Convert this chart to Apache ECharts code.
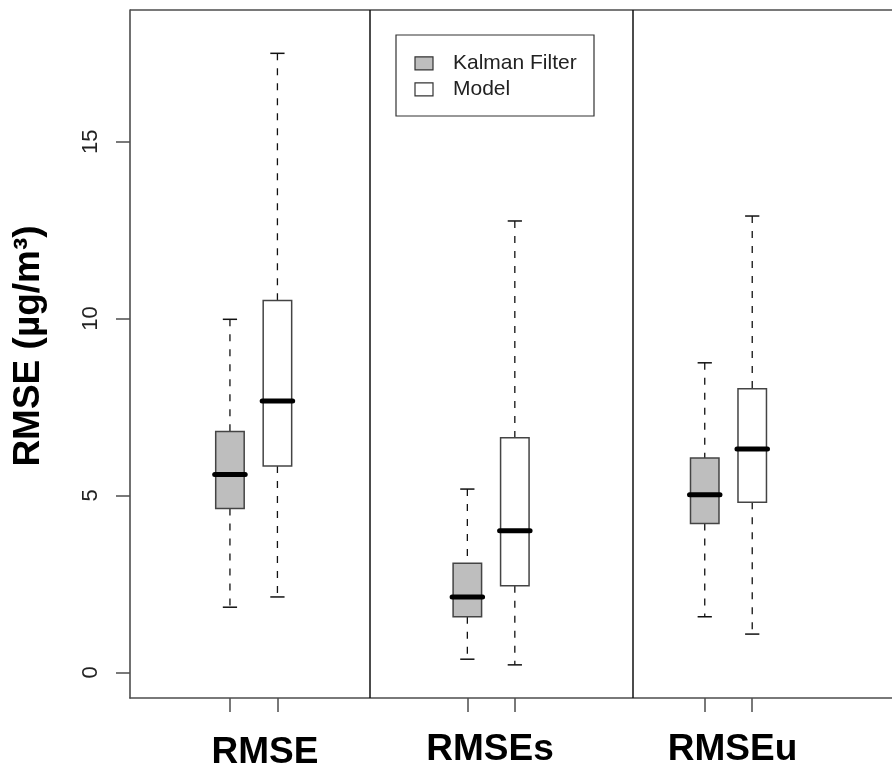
<!DOCTYPE html>
<html>
<head>
<meta charset="utf-8">
<script src="https://cdn.jsdelivr.net/npm/echarts@6/dist/echarts.min.js"></script>
<style>
html,body{margin:0;padding:0;background:#fff;}
#chart{width:892px;height:769px;}
</style>
</head>
<body>
<div id="chart"></div>
<script>
// ---- data ----
var categories = ['RMSE', 'RMSEs', 'RMSEu'];
var seriesNames = ['Kalman Filter', 'Model'];
var kalmanPositions = [1, 6, 11];
var modelPositions = [2, 7, 12];
// [min, Q1, median, Q3, max]
var kalmanStats = [
  [1.84, 4.63, 5.59, 6.81, 9.98],
  [0.37, 1.57, 2.13, 3.08, 5.18],
  [1.57, 4.21, 5.02, 6.06, 8.75]
];
var modelStats = [
  [2.13, 5.83, 7.67, 10.51, 17.50],
  [0.21, 2.45, 4.00, 6.63, 12.76],
  [1.08, 4.81, 6.31, 8.02, 12.90]
];
var separators = [3.95, 9.48];
var yTicks = [0, 5, 10, 15];
var yTitle = 'RMSE (\u00B5g/m\u00B3)';

// ---- build ----
function toRows(pos, stats) {
  return pos.map(function (p, i) { return [p].concat(stats[i]); });
}
var BOX_W = 0.6;
function makeRender(fill) {
  return function (params, api) {
    var x = api.value(0);
    var pMin = api.coord([x, api.value(1)]);
    var pQ1 = api.coord([x, api.value(2)]);
    var pMd = api.coord([x, api.value(3)]);
    var pQ3 = api.coord([x, api.value(4)]);
    var pMax = api.coord([x, api.value(5)]);
    var bw = api.size([BOX_W, 0])[0];
    var cx = pMd[0];
    var dash = {stroke: '#111', lineWidth: 1.3, lineDash: [7, 8], fill: null};
    var solid = {stroke: '#111', lineWidth: 1.5, fill: null};
    return {
      type: 'group',
      children: [
        {type: 'line', shape: {x1: cx, y1: pMax[1], x2: cx, y2: pQ3[1]}, style: dash},
        {type: 'line', shape: {x1: cx, y1: pQ1[1], x2: cx, y2: pMin[1]}, style: dash},
        {type: 'line', shape: {x1: cx - bw / 4, y1: pMax[1], x2: cx + bw / 4, y2: pMax[1]}, style: solid},
        {type: 'line', shape: {x1: cx - bw / 4, y1: pMin[1], x2: cx + bw / 4, y2: pMin[1]}, style: solid},
        {type: 'rect', shape: {x: cx - bw / 2, y: pQ3[1], width: bw, height: pQ1[1] - pQ3[1]},
          style: {fill: fill, stroke: '#444', lineWidth: 1.5}},
        {type: 'line', shape: {x1: cx - bw / 2 - 1, y1: pMd[1], x2: cx + bw / 2 + 1, y2: pMd[1]},
          style: {stroke: '#000', lineWidth: 5, lineCap: 'round'}}
      ]
    };
  };
}

var FONT = '"Liberation Sans", Arial, sans-serif';
var chart = echarts.init(document.getElementById('chart'), null, {renderer: 'canvas'});

var xMin = -1.105, pxPerUnit = 47.48;
var gridLeft = 130, gridRight = 0;
var xMax = xMin + (892 - gridLeft - gridRight) / pxPerUnit;

var labelX = [265, 490, 732.5];
var labelY = [753, 750, 750];

var graphics = [];
categories.forEach(function (c, i) {
  graphics.push({type: 'text', x: labelX[i], y: labelY[i], style: {text: c, font: 'bold 37px ' + FONT, fill: '#000', textAlign: 'center', textVerticalAlign: 'middle'}});
});
graphics.push({type: 'text', x: 29, y: 346, rotation: Math.PI / 2,
  style: {text: yTitle, font: 'bold 37px ' + FONT, fill: '#000', textAlign: 'center', textVerticalAlign: 'middle'}});
// top border of plot box (right side lies outside the picture)
graphics.push({type: 'line', shape: {x1: gridLeft, y1: 10, x2: 892, y2: 10}, style: {stroke: '#4d4d4d', lineWidth: 1.6}});
// legend box
var fills = ['#BEBEBE', '#FFFFFF'];
graphics.push({type: 'rect', shape: {x: 396, y: 35, width: 198, height: 81}, style: {fill: '#fff', stroke: '#333', lineWidth: 1.2}, z: 10});
seriesNames.forEach(function (n, i) {
  var cy = 63.3 + i * 26;
  graphics.push({type: 'rect', shape: {x: 415, y: cy - 6.5, width: 18, height: 13}, style: {fill: fills[i], stroke: '#333', lineWidth: 1.2}, z: 11});
  graphics.push({type: 'text', x: 453, y: cy, style: {text: n, font: '21px ' + FONT, fill: '#222', textVerticalAlign: 'middle'}, z: 11});
});

var axisColor = '#4d4d4d';
var option = {
  animation: false,
  backgroundColor: '#fff',
  grid: {left: gridLeft, right: gridRight, top: 10, bottom: 71, show: false, containLabel: false},
  xAxis: {
    type: 'value', min: xMin, max: xMax,
    axisLine: {show: true, onZero: false, lineStyle: {color: axisColor, width: 1.6}},
    axisTick: {show: true, length: 14, lineStyle: {color: axisColor, width: 1.5}, customValues: kalmanPositions.concat(modelPositions)},
    axisLabel: {show: false},
    splitLine: {show: false}
  },
  yAxis: {
    type: 'value', min: -0.727, max: 18.725,
    axisLine: {show: true, onZero: false, lineStyle: {color: axisColor, width: 1.6}},
    axisTick: {show: true, length: 14, lineStyle: {color: axisColor, width: 1.5}, customValues: yTicks},
    axisLabel: {show: true, rotate: 90, margin: 28, fontSize: 22, fontFamily: FONT, color: '#222', customValues: yTicks},
    splitLine: {show: false}
  },
  graphic: graphics,
  series: [
    {name: seriesNames[0], type: 'custom', renderItem: makeRender(fills[0]), data: toRows(kalmanPositions, kalmanStats), encode: {x: 0, y: [1, 2, 3, 4, 5]}, z: 3},
    {name: seriesNames[1], type: 'custom', renderItem: makeRender(fills[1]), data: toRows(modelPositions, modelStats), encode: {x: 0, y: [1, 2, 3, 4, 5]}, z: 3},
    {type: 'line', data: [], silent: true,
      markLine: {symbol: 'none', silent: true, label: {show: false},
        lineStyle: {type: 'solid', color: '#111', width: 1.5},
        data: separators.map(function (s) { return {xAxis: s}; })}}
  ]
};
chart.setOption(option);
</script>
</body>
</html>
